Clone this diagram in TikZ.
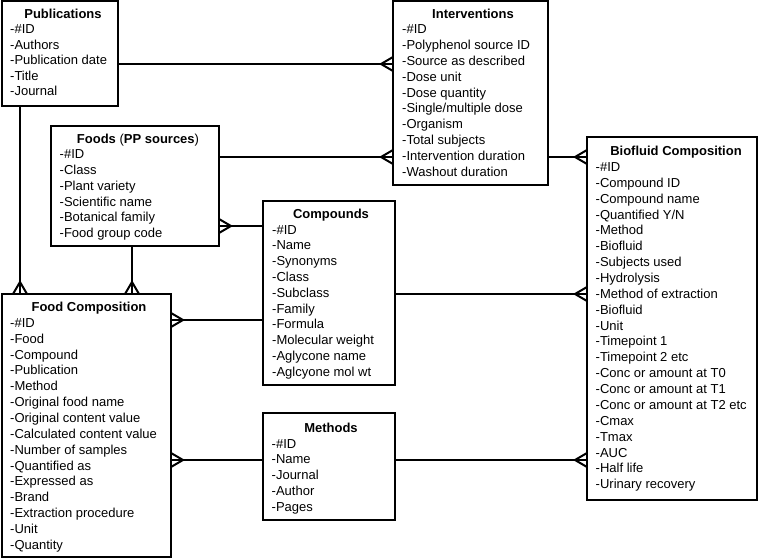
\documentclass[tikz,border=0pt]{standalone}
\usepackage{fontspec}
\setmainfont{Liberation Sans}
\begin{document}
\begin{tikzpicture}[x=1pt,y=-1pt,
  box/.style={draw, line width=2pt, rectangle, inner sep=0pt, outer sep=0pt, anchor=north west},
  ttl/.style={anchor=base, inner sep=0pt, font=\fontsize{13}{15}\selectfont\bfseries},
  item/.style={anchor=base west, inner sep=0pt, font=\fontsize{13}{15}\selectfont},
  link/.style={line width=2pt},
  crowfoot/.pic={\draw[line width=2pt] (-12,0) -- (0,7) (-12,0) -- (0,-7);}
]
\useasboundingbox (0,0) rectangle (760,559);

% boxes
\node[box, minimum width=116.5pt, minimum height=104.5pt] (pub) at (1.5,1.5) {};
\node[box, minimum width=155pt, minimum height=183.5pt] (interv) at (393,1.5) {};
\node[box, minimum width=168pt, minimum height=120pt] (foods) at (51,126) {};
\node[box, minimum width=132pt, minimum height=184pt] (comp) at (263,201) {};
\node[box, minimum width=169.5pt, minimum height=263pt] (fc) at (1.5,294) {};
\node[box, minimum width=132pt, minimum height=107pt] (meth) at (263,413) {};
\node[box, minimum width=170pt, minimum height=362.5pt] (bio) at (587,137) {};

% titles
\node[ttl] (pubt) at (63,18.7) {Publications};
\node[ttl] (intervt) at (473,18.7) {Interventions};
\node[ttl] (foodst) at (138,143) {Foods {\mdseries(}PP sources{\mdseries)}};
\node[ttl] (compt) at (331,218.7) {Compounds};
\node[ttl] (fct) at (89,311.4) {Food Composition};
\node[ttl] (metht) at (331,432) {Methods};
\node[ttl] (biot) at (676,155.4) {Biofluid Composition};

% items
\foreach \t [count=\i from 0] in {-\#ID,-Authors,-Publication date,-Title,-Journal}
  \node[item] (pub-\i) at (10,{34+15.5*\i}) {\t};
\foreach \t [count=\i from 0] in {-\#ID,-Polyphenol source ID,-Source as described,-Dose unit,-Dose quantity,-Single/multiple dose,-Organism,-Total subjects,-Intervention duration,-Washout duration}
  \node[item] (interv-\i) at (402,{34+15.8*\i}) {\t};
\foreach \t [count=\i from 0] in {-\#ID,-Class,-Plant variety,-Scientific name,-Botanical family,-Food group code}
  \node[item] (foods-\i) at (59.5,{158.7+15.8*\i}) {\t};
\foreach \t [count=\i from 0] in {-\#ID,-Name,-Synonyms,-Class,-Subclass,-Family,-Formula,-Molecular weight,-Aglycone name,-Aglcyone mol wt}
  \node[item] (comp-\i) at (272,{234+15.8*\i}) {\t};
\foreach \t [count=\i from 0] in {-\#ID,-Food,-Compound,-Publication,-Method,-Original food name,-Original content value,-Calculated content value,-Number of samples,-Quantified as,-Expressed as,-Brand,-Extraction procedure,-Unit,-Quantity}
  \node[item] (fc-\i) at (10,{327.4+15.85*\i}) {\t};
\foreach \t [count=\i from 0] in {-\#ID,-Name,-Journal,-Author,-Pages}
  \node[item] (meth-\i) at (271.5,{448+15.8*\i}) {\t};
\foreach \t [count=\i from 0] in {-\#ID,-Compound ID,-Compound name,-Quantified Y/N,-Method,-Biofluid,-Subjects used,-Hydrolysis,-Method of extraction,-Biofluid,-Unit,-Timepoint 1,-Timepoint 2 etc,-Conc or amount at T0,-Conc or amount at T1,-Conc or amount at T2 etc,-Cmax,-Tmax,-AUC,-Half life,-Urinary recovery}
  \node[item] (bio-\i) at (595.5,{171.4+15.87*\i}) {\t};

% connectors
\draw[link] (pub.east |- 0,64) -- (interv.west |- 0,64);
\pic at (interv.west |- 0,64) {crowfoot};

\draw[link] (pub.south -| 20,0) -- (fc.north -| 20,0);
\pic[rotate=-90] at (fc.north -| 20,0) {crowfoot};

\draw[link] (foods.east |- 0,157) -- (interv.west |- 0,157);
\pic at (interv.west |- 0,157) {crowfoot};

\draw[link] (interv.east |- 0,157) -- (bio.west |- 0,157);
\pic at (bio.west |- 0,157) {crowfoot};

\draw[link] (comp.west |- 0,226) -- (foods.east |- 0,226);
\pic[rotate=180] at (foods.east |- 0,226) {crowfoot};

\draw[link] (foods.south -| 132,0) -- (fc.north -| 132,0);
\pic[rotate=-90] at (fc.north -| 132,0) {crowfoot};

\draw[link] (comp.west |- 0,320) -- (fc.east |- 0,320);
\pic[rotate=180] at (fc.east |- 0,320) {crowfoot};

\draw[link] (comp.east |- 0,294) -- (bio.west |- 0,294);
\pic at (bio.west |- 0,294) {crowfoot};

\draw[link] (meth.west |- 0,460) -- (fc.east |- 0,460);
\pic[rotate=180] at (fc.east |- 0,460) {crowfoot};

\draw[link] (meth.east |- 0,460) -- (bio.west |- 0,460);
\pic at (bio.west |- 0,460) {crowfoot};
\end{tikzpicture}
\end{document}
